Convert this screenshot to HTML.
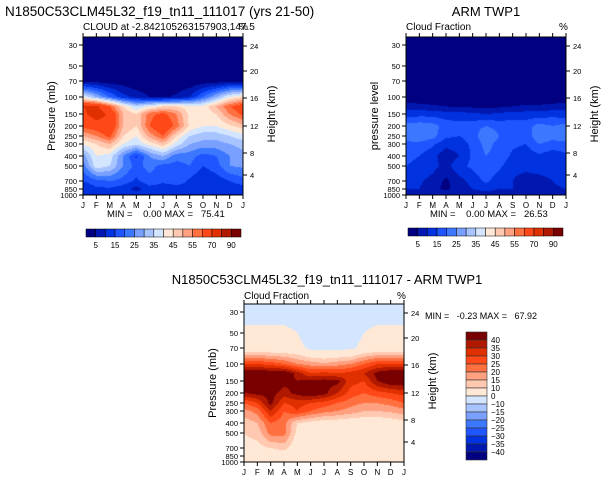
<!DOCTYPE html>
<html><head><meta charset="utf-8">
<style>
body{margin:0;background:#fff;width:601px;height:481px;overflow:hidden;position:relative;font-family:"Liberation Sans",sans-serif;}
svg{position:absolute;left:0;top:0}
canvas{position:absolute}
text{white-space:pre}
</style></head>
<body>
<canvas id="c1" width="160" height="158" style="left:83px;top:37px"></canvas>
<canvas id="c2" width="160" height="158" style="left:406px;top:37px"></canvas>
<canvas id="c3" width="160" height="158" style="left:244px;top:304px"></canvas>
<svg id="s" width="601" height="481"></svg>
<script>
const months=["J","F","M","A","M","J","J","A","S","O","N","D","J"];
const pLevels=[30,50,70,100,125,150,200,250,300,400,500,700,850,950,1000];
const pTicks=[30,50,70,100,150,200,250,300,400,500,700,850,1000];
const hTicks=[24,20,16,12,8,4];
const model=[
[0,0,0,0,0,0,0,0,0,0,0,0,0],
[0,0,0,0,0,0,0,0,0,0,0,0,0],
[3,3,2,2,1,1,1,1,1,2,2,3,3],
[40,30,20,12,8,5,4,6,10,20,30,40,45],
[70,72,60,45,35,40,45,45,42,42,50,60,65],
[68,75,68,50,45,58,62,55,43,42,45,55,62],
[62,65,68,50,45,60,68,58,44,40,40,44,48],
[50,55,62,45,40,52,60,45,35,32,32,35,38],
[40,45,50,40,36,42,48,38,30,28,28,30,32],
[28,40,38,25,14,25,30,22,22,18,20,25,28],
[22,38,35,25,18,22,18,18,20,15,18,25,26],
[15,18,20,18,14,18,16,18,14,10,12,15,18],
[10,14,14,12,8,13,12,12,14,12,12,12,12],
[12,12,12,12,12,12,12,12,12,12,12,12,12],
[8,8,8,8,8,8,8,8,8,8,8,8,8]];
const obs=[
[0,0,0,0,0,0,0,0,0,0,0,0,0],
[0,0,0,0,0,0,0,0,0,0,0,0,0],
[0,0,0,0,0,0,0,0,0,0,0,0,0],
[0,0,0,0,0,0,0,0,0,0,0,0,0],
[8,7,6,5,4,4,3,4,5,6,6,7,8],
[12,13,13,12,12,11,10,11,12,12,12,13,12],
[22,23,22,18,17,18,20,18,18,18,22,20,22],
[24,25,22,16,15,17,25,20,18,17,24,22,24],
[18,18,16,12,13,16,22,18,16,15,20,18,18],
[16,15,12,6,10,16,20,18,14,12,14,12,14],
[15,14,12,8,14,16,20,16,12,12,14,14,14],
[12,11,8,4,8,12,16,12,10,7,7,10,12],
[10,10,6,4,7,10,12,10,10,8,7,9,10],
[8,8,8,8,8,8,8,8,8,8,8,8,8],
[6,6,6,6,6,6,6,6,6,6,6,6,6]];
const diff=[
[-5,-5,-5,-5,-5,-5,-5,-5,-5,-5,-5,-5,-5],
[3,3,3,3,0,-5,-5,-5,-5,0,3,3,3],
[3,3,3,3,3,-2,-2,-2,-2,3,3,3,3],
[30,30,28,25,20,18,16,18,20,25,30,30,30],
[45,45,45,45,38,30,32,30,32,35,42,45,45],
[45,45,45,42,40,42,42,42,32,30,40,45,45],
[40,42,42,38,42,45,42,35,28,25,28,30,32],
[25,30,42,30,32,30,28,25,22,20,20,22,25],
[18,22,35,25,30,25,22,20,18,15,15,16,18],
[12,15,25,22,10,8,6,6,5,5,5,6,8],
[10,12,22,22,8,5,5,5,5,5,5,5,6],
[8,8,10,12,5,5,5,5,5,5,5,5,5],
[5,5,5,5,5,5,5,5,5,5,5,5,5],
[5,5,5,5,5,5,5,5,5,5,5,5,5],
[10,10,12,12,10,10,10,10,8,10,12,12,10]];
const absLevels=[5,10,15,20,25,30,35,40,45,50,55,60,70,80,90];
const absLabels=["5","15","25","35","45","55","70","90"];
const diffLevels=[-40,-35,-30,-25,-20,-15,-10,0,10,15,20,25,30,35,40];
const diffLabels=["40","35","30","25","20","15","10","0","−10","−15","−20","−25","−30","−35","−40"];
const colors=["#000080","#0018b0","#0032e0","#1e55ff","#3c78ff","#7aa0ff","#a8c4ff","#d4e6ff","#ffe8d6","#ffc8b0","#ffa080","#ff7040","#ff4818","#e03000","#b01800","#780000"];

const pAx=[30,50,70,100,150,200,250,300,400,500,700,850,1000];
const pFr=[8,29,44,60,77,89,99,107,119,129,144,152,158].map(v=>v/158);
function pToF(p){for(let i=0;i<pAx.length-1;i++){if(p<=pAx[i+1]){const t=(Math.log(p)-Math.log(pAx[i]))/(Math.log(pAx[i+1])-Math.log(pAx[i]));return pFr[i]+t*(pFr[i+1]-pFr[i]);}}return 1;}
function fToP(f){if(f<=pFr[0]){const t=(f-pFr[0])/(pFr[1]-pFr[0]);return Math.exp(Math.log(30)+t*(Math.log(50)-Math.log(30)));}
for(let i=0;i<pAx.length-1;i++){if(f<=pFr[i+1]){const t=(f-pFr[i])/(pFr[i+1]-pFr[i]);return Math.exp(Math.log(pAx[i])+t*(Math.log(pAx[i+1])-Math.log(pAx[i])));}}return 1000;}
const hFr={24:9,20:34,16:61,12:89,8:116,4:138};
function sample(g,m,p){
 let li=0,lt=0;if(p<=pLevels[0]){li=0;lt=0;}else if(p>=1000){li=pLevels.length-2;lt=1;}else{
 for(li=0;li<pLevels.length-1;li++)if(p<=pLevels[li+1])break;
 lt=(Math.log(p)-Math.log(pLevels[li]))/(Math.log(pLevels[li+1])-Math.log(pLevels[li]));}
 let mi=Math.min(11,Math.floor(m)),mt=m-mi;
 const a=g[li][mi]*(1-mt)+g[li][mi+1]*mt,b=g[li+1][mi]*(1-mt)+g[li+1][mi+1]*mt;
 return a*(1-lt)+b*lt;}
function hex(c){return [parseInt(c.substr(1,2),16),parseInt(c.substr(3,2),16),parseInt(c.substr(5,2),16)];}
function drawField(id,g,levels){
 const cv=document.getElementById(id),ctx=cv.getContext('2d'),W=cv.width,H=cv.height;
 const img=ctx.createImageData(W,H);
 for(let y=0;y<H;y++){const p=fToP((y+0.5)/H);for(let x=0;x<W;x++){
  const v=sample(g,(x+0.5)/W*12,p);let k=0;while(k<levels.length&&v>=levels[k])k++;
  const c=hex(colors[k]);const o=(y*W+x)*4;img.data[o]=c[0];img.data[o+1]=c[1];img.data[o+2]=c[2];img.data[o+3]=255;}}
 ctx.putImageData(img,0,0);}
drawField('c1',model,absLevels);drawField('c2',obs,absLevels);drawField('c3',diff,diffLevels);

const S=document.getElementById('s'),NS='http://www.w3.org/2000/svg';
function el(t,a,txt){const e=document.createElementNS(NS,t);for(const k in a)e.setAttribute(k,a[k]);if(txt!==undefined)e.textContent=txt;S.appendChild(e);return e;}
function frame(x0,y0,w,h,ylab,name){
 const r=el('rect',{x:x0,y:y0,width:w,height:h,fill:'none',stroke:'#000','stroke-width':1});
 
 months.forEach((m,i)=>{const x=x0+i*w/12;
  el('line',{x1:x,y1:y0+h,x2:x,y2:y0+h+4,stroke:'#000'});el('line',{x1:x,y1:y0,x2:x,y2:y0-4,stroke:'#000'});
  const t=el('text',{x:x,y:y0+h+13,'font-size':8,'text-anchor':'middle'},m);
  });
 pTicks.forEach(p=>{const y=y0+pToF(p)*h;el('line',{x1:x0-4,y1:y,x2:x0,y2:y,stroke:'#000'});
  const t=el('text',{x:x0-6,y:y+3,'font-size':7.5,'text-anchor':'end'},String(p));
  });
 hTicks.forEach(hh=>{const y=y0+hFr[hh]/158*h;el('line',{x1:x0+w,y1:y,x2:x0+w+4,y2:y,stroke:'#000'});
  const t=el('text',{x:x0+w+7,y:y+3,'font-size':7.5},String(hh));
  });
 const yl=el('text',{x:0,y:0,'font-size':11,'text-anchor':'middle',transform:`translate(${x0-28},${y0+h/2}) rotate(-90)`},ylab);
 
 const hl=el('text',{x:0,y:0,'font-size':11,'text-anchor':'middle',transform:`translate(${x0+w+32},${y0+h/2-2}) rotate(-90)`},'Height (km)');
 }
frame(83,37,160,158,'Pressure (mb)','model');
frame(406,37,160,158,'pressure level','obs');
frame(244,304,160,158,'Pressure (mb)','diff');

function hbar(x0,y0,w,h,name){const n=colors.length,bw=w/n;
 colors.forEach((c,i)=>{const r=el('rect',{x:x0+i*bw,y:y0,width:bw,height:h,fill:c,stroke:'#000','stroke-width':0.5});
  });
 absLabels.forEach((l,j)=>{const t=el('text',{x:x0+(2*j+1)*bw,y:y0+h+11,'font-size':8,'text-anchor':'middle'},l);
  });}
hbar(86,229,155,8,'model-colorbar');hbar(408,228,155,8,'obs-colorbar');
(function(){const x0=466,y0=332,w=21,h=128,n=colors.length,bh=h/n;
 colors.slice().reverse().forEach((c,i)=>{const r=el('rect',{x:x0,y:y0+i*bh,width:w,height:bh,fill:c,stroke:'#333','stroke-width':0.6});
  });
 diffLabels.forEach((l,j)=>{const t=el('text',{x:x0+w+4,y:y0+(j+1)*bh+3,'font-size':8},l);
  });})();

function txt(x,y,s,sz,name,anchor){const t=el('text',{x:x,y:y,'font-size':sz,'text-anchor':anchor||'start'},s);
 return t;}
txt(5,16,'N1850C53CLM45L32_f19_tn11_111017 (yrs 21-50)',13.5,'model-title');
txt(83,30,'CLOUD at -2.842105263157903,147.5',10,'model-subtitle');
txt(239,30,'%',10,'model-units');
txt(486,16,'ARM TWP1',13,'obs-title','middle');
txt(406,30,'Cloud Fraction',10,'obs-subtitle');
txt(559,30,'%',10,'obs-units');
txt(107,217,'MIN =    0.00 MAX =   75.41',9.5,'model-minmax');
txt(430,217,'MIN =    0.00 MAX =   26.53',9.5,'obs-minmax');
txt(327,284,'N1850C53CLM45L32_f19_tn11_111017 - ARM TWP1',13,'diff-title','middle');
txt(244,299,'Cloud Fraction',10,'diff-subtitle');
txt(397,299,'%',10,'diff-units');
txt(425,319,'MIN =   -0.23 MAX =   67.92',9,'diff-minmax');
</script>
</body></html>
